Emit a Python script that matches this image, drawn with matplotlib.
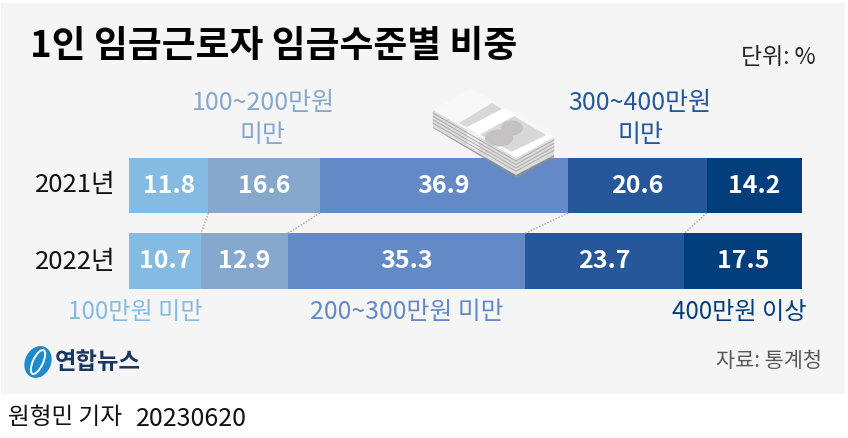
import matplotlib
matplotlib.use("Agg")
import matplotlib.pyplot as plt
from matplotlib.patches import Polygon, Rectangle, Ellipse

plt.rcParams['font.family'] = ['Noto Sans CJK KR', 'DejaVu Sans']

years = ['2021년', '2022년']
bands = ['100만원 미만', '100~200만원 미만', '200~300만원 미만', '300~400만원 미만', '400만원 이상']
v2021 = [11.8, 16.6, 36.9, 20.6, 14.2]
v2022 = [10.7, 12.9, 35.3, 23.7, 17.5]
colors = ['#85bbe3', '#85a8cc', '#638ac7', '#26579a', '#033e7c']
label_colors = ['#85bbe3', '#85a8cc', '#638ac7', '#26579a', '#033e7c']

W, H = 848, 438
fig = plt.figure(figsize=(W / 100, H / 100), dpi=100, facecolor='white')

# pixel-space overlay for the panel, text and decoration
bg = fig.add_axes([0, 0, 1, 1], zorder=0)
bg.set_xlim(0, W); bg.set_ylim(H, 0); bg.axis('off')
bg.add_patch(Rectangle((1, 3), 844, 391, fc='#f5f5f5', ec='none'))

# bars
ax = fig.add_axes([129 / W, 1 - 288.5 / H, 673 / W, (288.5 - 158) / H], zorder=1)
ax.set_facecolor('none')
height = 0.73
ax.set_xlim(0, 100.1)
ax.set_ylim(1 + height / 2, -height / 2)
ax.axis('off')
left21 = left22 = 0
for v21, v22, c in zip(v2021, v2022, colors):
    ax.barh(0, v21, left=left21, height=height, color=c, lw=0)
    ax.barh(1, v22, left=left22, height=height, color=c, lw=0)
    ax.text(left21 + v21 / 2, 0.0, f'{v21}', color='white', ha='center', va='center',
            fontsize=18, fontweight='bold')
    ax.text(left22 + v22 / 2, 1.0, f'{v22}', color='white', ha='center', va='center',
            fontsize=18, fontweight='bold')
    left21 += v21
    left22 += v22
    if left21 < 100:
        ax.plot([left21, left22], [height / 2, 1 - height / 2], color='#a8a8a8', lw=1,
                ls=(0, (1, 1.2)), clip_on=False)

# money icon (decoration)
ico = fig.add_axes([0, 0, 1, 1], zorder=2)
ico.set_xlim(0, W); ico.set_ylim(H, 0); ico.axis('off'); ico.patch.set_alpha(0)
ico.add_patch(Polygon([(433, 128), (517, 178), (554, 157), (554, 152), (517, 172), (433, 124)],
                      fc='#8f8f8f', ec='none', alpha=0.8))
ico.add_patch(Polygon([(433, 110), (433, 127), (516, 175), (554, 155), (554, 137), (516, 158)],
                      fc='#dcdcdc', ec='none'))
for k in range(4):
    off = 3.4 * k
    ico.plot([433, 516, 554], [113 + off, 161 + off, 140 + off], color='#ababab', lw=0.7)
ico.add_patch(Polygon([(433, 110), (471, 88), (554, 136), (516, 158)], fc='#f8f8f8', ec='none'))
ico.add_patch(Polygon([(459, 123), (492, 103), (546, 135), (514, 153)], fc='#d8d8d8', ec='none'))
ico.add_patch(Ellipse((512, 128), 22, 15, fc='#c4c2c2', ec='none'))
ico.add_patch(Ellipse((499, 138), 28, 17, fc='#c4c2c2', ec='none'))
ico.add_patch(Polygon([(467, 127), (504, 108), (516, 115), (479, 135)], fc='#ffffff', ec='none'))
ico.add_patch(Polygon([(467, 127), (479, 135), (479, 152), (467, 145)], fc='#f0f0f0', ec='none'))
ico.add_patch(Polygon([(509, 153), (549, 134), (554, 137), (516, 158)], fc='#ffffff', ec='none'))

def T(x, y, s, size, color='black', ha='center', weight='normal', **kw):
    ico.text(x, y, s, fontsize=size, color=color, ha=ha, va='center', fontweight=weight, **kw)

T(30, 47, '1인 임금근로자 임금수준별 비중', 26.5, ha='left', weight='bold')
T(778, 58, '단위: %', 16.5, color='#222222')
T(75, 185, years[0], 18.5, color='#111111')
T(75, 262, years[1], 18.5, color='#111111')
T(263, 103, '100~200만원', 18, label_colors[1])
T(263, 135, '미만', 18, label_colors[1])
T(640, 103, '300~400만원', 18, label_colors[3])
T(640, 135, '미만', 18, label_colors[3])
T(135, 312, bands[0], 17.4, label_colors[0])
T(407, 312, bands[2], 17.9, label_colors[2])
T(739, 312, bands[4], 17.4, label_colors[4])
T(769, 361, '자료: 통계청', 15, color='#595959')
T(8, 418, '원형민 기자', 17, color='#111111', ha='left')
T(136, 419, '20230620', 18, color='#111111', ha='left')

# logo
ico.add_patch(Ellipse((38, 362), 26, 33, angle=25, fc='#1f8bcd', ec='none'))
ico.add_patch(Ellipse((38, 362), 10, 26, angle=25, fc='none', ec='white', lw=1.4))
T(98, 362, '연합뉴스', 16.8, '#1c3664', weight='black')

fig.savefig('out.png', dpi=100, facecolor='white')
